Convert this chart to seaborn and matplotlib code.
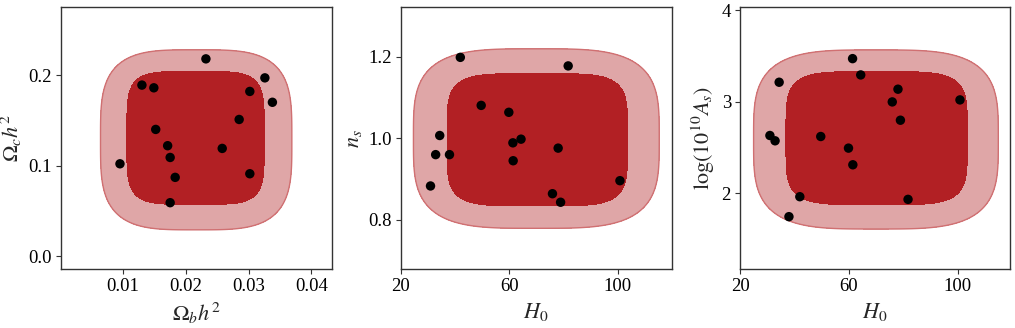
import numpy as np
import pandas as pd
import matplotlib
matplotlib.use("Agg")
import matplotlib.pyplot as plt
import seaborn as sns

# ---- data ----
omb = [0.0095, 0.0130, 0.0149, 0.0152, 0.0171, 0.0175, 0.0183, 0.0175,
       0.0232, 0.0258, 0.0285, 0.0302, 0.0302, 0.0326, 0.0338]
omc = [0.102, 0.189, 0.186, 0.140, 0.122, 0.109, 0.087, 0.059,
       0.218, 0.119, 0.151, 0.182, 0.091, 0.197, 0.170]

h0 = [31.0, 32.9, 34.4, 38.0, 42.0, 49.7, 59.9, 61.4, 61.5, 64.4,
      76.0, 78.1, 79.0, 81.8, 100.9]
ns = [0.883, 0.960, 1.007, 0.960, 1.199, 1.081, 1.064, 0.989, 0.945, 0.998,
      0.864, 0.976, 0.843, 1.178, 0.896]
logAs = [2.629, 2.571, 3.211, 1.742, 1.960, 2.618, 2.491, 3.469, 2.309, 3.291,
         2.996, 3.135, 2.796, 1.931, 3.018]

# credible-region extents (x range, y range) for outer / inner contour
omb_outer, omc_outer = [0.0064, 0.0369], [0.029, 0.228]
omb_inner, omc_inner = [0.0106, 0.0325], [0.0572, 0.204]
h0_outer_ns, ns_outer = [24.7, 115.4], [0.779, 1.220]
h0_inner_ns, ns_inner = [37.1, 103.7], [0.834, 1.159]
h0_outer_as, as_outer = [25.0, 115.0], [1.607, 3.564]
h0_inner_as, as_inner = [36.9, 103.6], [1.873, 3.327]

xlims = [(0.0001, 0.0433), (20, 120), (20, 119.3)]
ylims = [(-0.0143, 0.275), (0.679, 1.322), (1.17, 4.03)]
xticks = [[0.01, 0.02, 0.03, 0.04], [20, 60, 100], [20, 60, 100]]
yticks = [[0.0, 0.1, 0.2], [0.8, 1.0, 1.2], [2, 3, 4]]
xlabels = [r"$\Omega_b h^2$", r"$H_0$", r"$H_0$"]
ylabels = [r"$\Omega_c h^2$", r"$n_s$", r"$\log(10^{10}A_s)$"]

# ---- styling ----
sns.set_theme(style="ticks")
plt.rcParams["font.family"] = ["Liberation Serif", "DejaVu Serif"]
plt.rcParams["mathtext.fontset"] = "stix"
plt.rcParams["axes.edgecolor"] = "#333333"
plt.rcParams["xtick.color"] = "#333333"
plt.rcParams["ytick.color"] = "#333333"
plt.rcParams["xtick.labelcolor"] = "black"
plt.rcParams["ytick.labelcolor"] = "black"

inner_col = "#b22024"
outer_col = "#dfa6a7"
edge_col = "#d07072"

fig = plt.figure(figsize=(10.15, 3.28), dpi=100)
W, H = 1015.0, 328.0
lefts = [61, 400.7, 740]
widths = [271, 271, 270]
top, bot = 7.3, 269
axes = [fig.add_axes([l / W, (H - bot) / H, w / W, (bot - top) / H])
        for l, w in zip(lefts, widths)]

panels = [
    (pd.DataFrame({"x": omb, "y": omc}), (omb_outer, omc_outer), (omb_inner, omc_inner)),
    (pd.DataFrame({"x": h0, "y": ns}), (h0_outer_ns, ns_outer), (h0_inner_ns, ns_inner)),
    (pd.DataFrame({"x": h0, "y": logAs}), (h0_outer_as, as_outer), (h0_inner_as, as_inner)),
]


def region(xr, yr, p, xl, yl):
    gx = np.linspace(xl[0], xl[1], 600)
    gy = np.linspace(yl[0], yl[1], 600)
    X, Y = np.meshgrid(gx, gy)
    cx, rx = (xr[0] + xr[1]) / 2, (xr[1] - xr[0]) / 2
    cy, ry = (yr[0] + yr[1]) / 2, (yr[1] - yr[0]) / 2
    F = np.abs((X - cx) / rx) ** p + np.abs((Y - cy) / ry) ** p
    return X, Y, F


for i, (ax, (df, outer, inner)) in enumerate(zip(axes, panels)):
    xl, yl = xlims[i], ylims[i]
    X, Y, F = region(outer[0], outer[1], 3.6, xl, yl)
    ax.contourf(X, Y, F, levels=[0, 1], colors=[outer_col], zorder=1)
    ax.contour(X, Y, F, levels=[1], colors=[edge_col], linewidths=1.0, zorder=2)
    X, Y, F = region(inner[0], inner[1], 4.8, xl, yl)
    ax.contourf(X, Y, F, levels=[0, 1], colors=[inner_col], zorder=3)
    sns.scatterplot(data=df, x="x", y="y", ax=ax, color="black", s=46,
                    edgecolor="none", zorder=5)
    ax.set_xlim(*xl)
    ax.set_ylim(*yl)
    ax.set_xticks(xticks[i])
    ax.set_yticks(yticks[i])
    ax.set_xlabel(xlabels[i], fontsize=16, labelpad=4)
    ax.set_ylabel(ylabels[i], fontsize=16, labelpad=3)
    ax.tick_params(labelsize=13.5, length=3.5, width=0.8, pad=3)
    for s in ax.spines.values():
        s.set_linewidth(1.0)
        s.set_visible(True)

fig.savefig("out.png", dpi=100)
